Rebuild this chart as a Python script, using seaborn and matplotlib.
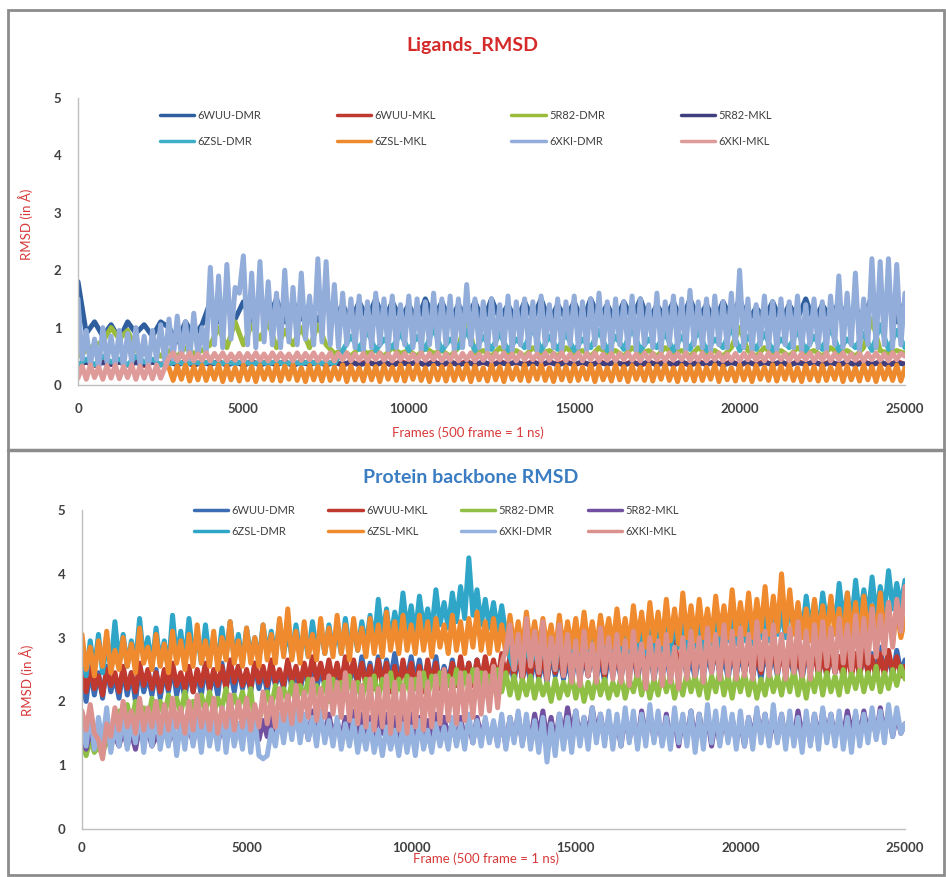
import numpy as np
import pandas as pd
import matplotlib
matplotlib.use("Agg")
import matplotlib.pyplot as plt
import seaborn as sns
from matplotlib.lines import Line2D
from matplotlib.patches import Rectangle

SYSTEMS = ["6WUU-DMR", "6WUU-MKL", "5R82-DMR", "5R82-MKL",
           "6ZSL-DMR", "6ZSL-MKL", "6XKI-DMR", "6XKI-MKL"]

LIG_COLORS = ["#2E5E9E", "#C0392F", "#9BBB3B", "#3F3F7F",
              "#3FAFC8", "#EE8A2E", "#93ADDA", "#DE9B9A"]
PRO_COLORS = ["#3C6DB4", "#C0392F", "#8FBF45", "#7150A0",
              "#2FA6C8", "#EF8A2F", "#96B2DF", "#DB928F"]

LAST_FRAME = 25000        # readings are evenly spaced from frame 0 to 25000
X_TICKS = [0, 5000, 10000, 15000, 20000, 25000]
Y_TICKS = [0, 1, 2, 3, 4, 5]

# ---------------- ligand RMSD (A) ----------------
# hidden / minor series: one reading every 250 frames
LIG_6WUU_DMR = [
    1.80, 0.90, 1.10, 0.85, 1.05, 0.80, 1.10, 0.90, 1.05, 0.85,
    1.10, 1.00, 0.75, 1.10, 0.85, 1.05, 1.45, 1.10, 1.40, 1.15,
    1.45, 1.10, 1.40, 1.15, 1.50, 1.10, 1.45, 1.15, 1.40, 1.10,
    1.45, 1.15, 1.40, 1.10, 1.45, 1.15, 1.50, 1.10, 1.45, 1.15,
    1.40, 1.10, 1.50, 1.15, 1.45, 1.10, 1.40, 1.15, 1.45, 1.10,
    1.50, 1.15, 1.40, 1.10, 1.45, 1.15, 1.50, 1.10, 1.40, 1.15,
    1.45, 1.10, 1.50, 1.15, 1.40, 1.10, 1.45, 1.15, 1.50, 1.10,
    1.40, 1.15, 1.45, 1.10, 1.50, 1.15, 1.40, 1.10, 1.45, 1.15,
    1.50, 1.10, 1.35, 1.15, 1.45, 1.10, 1.40, 1.15, 1.50, 1.10,
    1.40, 1.15, 1.45, 1.10, 1.35, 1.15, 1.55, 1.50, 1.45, 1.10,
    1.45]
LIG_6WUU_MKL = [
    0.35, 0.40, 0.34, 0.41, 0.36, 0.40, 0.35, 0.41, 0.34, 0.40,
    0.36, 0.41, 0.35, 0.40, 0.34, 0.41, 0.36, 0.40, 0.35, 0.41,
    0.34, 0.40, 0.36, 0.41, 0.35, 0.40, 0.34, 0.41, 0.36, 0.40,
    0.35, 0.41, 0.34, 0.40, 0.36, 0.41, 0.35, 0.40, 0.34, 0.41,
    0.36, 0.40, 0.35, 0.41, 0.34, 0.40, 0.36, 0.41, 0.35, 0.40,
    0.34, 0.41, 0.36, 0.40, 0.35, 0.41, 0.34, 0.40, 0.36, 0.41,
    0.35, 0.40, 0.34, 0.41, 0.36, 0.40, 0.35, 0.41, 0.34, 0.40,
    0.36, 0.41, 0.35, 0.40, 0.34, 0.41, 0.36, 0.40, 0.35, 0.41,
    0.34, 0.40, 0.36, 0.41, 0.35, 0.40, 0.34, 0.41, 0.36, 0.40,
    0.35, 0.41, 0.34, 0.40, 0.36, 0.41, 0.35, 0.40, 0.34, 0.41,
    0.36]
LIG_5R82_DMR = [
    0.50, 0.60, 0.70, 0.75, 1.00, 0.80, 0.95, 0.60, 0.55, 0.65,
    0.50, 0.60, 0.50, 0.65, 0.55, 0.60, 0.70, 1.00, 0.65, 1.10,
    0.70, 1.05, 0.80, 1.10, 0.65, 0.95, 0.70, 1.00, 0.65, 1.05,
    0.70, 0.55, 0.60, 0.50, 0.65, 0.55, 0.60, 0.50, 0.65, 0.55,
    0.60, 0.50, 0.65, 0.55, 0.60, 0.50, 0.65, 1.20, 0.55, 0.60,
    0.50, 0.65, 0.55, 0.60, 0.50, 0.65, 0.55, 0.60, 0.50, 0.65,
    0.55, 0.60, 0.50, 0.65, 0.55, 0.60, 0.50, 0.65, 0.55, 0.60,
    0.50, 0.65, 0.55, 0.60, 0.50, 0.65, 0.55, 0.60, 0.50, 0.65,
    1.00, 0.60, 0.50, 0.65, 0.55, 0.60, 0.50, 0.65, 0.55, 0.60,
    0.50, 0.65, 0.55, 0.60, 0.50, 0.65, 1.15, 0.60, 0.55, 0.60,
    0.55]
LIG_5R82_MKL = [
    0.36, 0.40, 0.35, 0.39, 0.36, 0.40, 0.35, 0.39, 0.36, 0.40,
    0.35, 0.39, 0.36, 0.40, 0.35, 0.39, 0.36, 0.40, 0.35, 0.39,
    0.36, 0.40, 0.35, 0.39, 0.36, 0.40, 0.35, 0.39, 0.36, 0.40,
    0.35, 0.39, 0.36, 0.40, 0.35, 0.39, 0.36, 0.40, 0.35, 0.39,
    0.36, 0.40, 0.35, 0.39, 0.36, 0.40, 0.35, 0.39, 0.36, 0.40,
    0.35, 0.39, 0.36, 0.40, 0.35, 0.39, 0.36, 0.40, 0.35, 0.39,
    0.36, 0.40, 0.35, 0.39, 0.36, 0.40, 0.35, 0.39, 0.36, 0.40,
    0.35, 0.39, 0.36, 0.40, 0.35, 0.39, 0.36, 0.40, 0.35, 0.39,
    0.36, 0.40, 0.35, 0.39, 0.36, 0.40, 0.35, 0.39, 0.36, 0.40,
    0.35, 0.39, 0.36, 0.40, 0.35, 0.39, 0.36, 0.40, 0.35, 0.39,
    0.36]
LIG_6ZSL_DMR = [
    0.35, 0.45, 0.35, 0.50, 0.40, 0.45, 0.35, 0.50, 0.40, 0.45,
    0.35, 0.37, 0.41, 0.36, 0.40, 0.37, 0.41, 0.36, 0.40, 0.37,
    0.41, 0.36, 0.40, 0.37, 0.41, 0.36, 0.40, 0.37, 0.41, 0.36,
    0.40, 0.37, 0.60, 0.85, 0.62, 0.95, 0.60, 0.80, 0.65, 0.90,
    0.60, 0.85, 0.62, 1.00, 0.60, 0.80, 0.65, 0.95, 0.60, 0.85,
    0.62, 0.90, 0.60, 0.80, 0.65, 1.00, 0.60, 0.85, 0.62, 0.90,
    0.60, 0.80, 0.65, 0.95, 0.60, 0.85, 0.62, 1.00, 0.60, 0.80,
    0.65, 0.90, 0.60, 0.85, 0.62, 0.95, 0.60, 0.80, 0.65, 1.00,
    0.60, 0.85, 0.62, 0.90, 0.60, 0.80, 0.65, 0.95, 0.60, 0.85,
    0.62, 1.00, 0.60, 0.80, 0.65, 0.90, 0.60, 1.05, 0.62, 0.95,
    0.65]
# dominant series: one reading every 125 frames
LIG_6ZSL_MKL = [
    np.nan, np.nan, np.nan, np.nan, np.nan, np.nan, np.nan, np.nan, np.nan, np.nan,
    np.nan, np.nan, np.nan, np.nan, np.nan, np.nan, np.nan, np.nan, np.nan, np.nan,
    np.nan, np.nan, 0.30, 0.08, 0.33, 0.10, 0.35, 0.07, 0.32, 0.09,
    0.34, 0.08, 0.31, 0.10, 0.35, 0.06, 0.33, 0.09, 0.30, 0.07,
    0.35, 0.09, 0.32, 0.06, 0.34, 0.10, 0.31, 0.08, 0.35, 0.07,
    0.33, 0.10, 0.35, 0.08, 0.30, 0.06, 0.34, 0.09, 0.32, 0.07,
    0.34, 0.08, 0.31, 0.10, 0.35, 0.06, 0.33, 0.09, 0.30, 0.07,
    0.35, 0.09, 0.32, 0.06, 0.34, 0.10, 0.31, 0.08, 0.35, 0.07,
    0.33, 0.10, 0.35, 0.08, 0.30, 0.06, 0.34, 0.09, 0.32, 0.07,
    0.34, 0.08, 0.31, 0.10, 0.35, 0.06, 0.33, 0.09, 0.30, 0.07,
    0.35, 0.09, 0.32, 0.06, 0.34, 0.10, 0.31, 0.08, 0.35, 0.07,
    0.33, 0.10, 0.35, 0.08, 0.30, 0.06, 0.34, 0.09, 0.32, 0.07,
    0.34, 0.08, 0.31, 0.10, 0.35, 0.06, 0.33, 0.09, 0.30, 0.07,
    0.35, 0.09, 0.32, 0.06, 0.34, 0.10, 0.31, 0.08, 0.35, 0.07,
    0.33, 0.10, 0.35, 0.08, 0.30, 0.06, 0.34, 0.09, 0.32, 0.07,
    0.34, 0.08, 0.31, 0.10, 0.35, 0.06, 0.33, 0.09, 0.30, 0.07,
    0.35, 0.09, 0.32, 0.06, 0.34, 0.10, 0.31, 0.08, 0.35, 0.07,
    0.33, 0.10, 0.35, 0.08, 0.30, 0.06, 0.34, 0.09, 0.32, 0.07,
    0.34, 0.08, 0.31, 0.10, 0.35, 0.06, 0.33, 0.09, 0.30, 0.07,
    0.35, 0.09, 0.32, 0.06, 0.34, 0.10, 0.31, 0.08, 0.35, 0.07,
    0.30]
LIG_6XKI_DMR = [
    1.50, 0.45, 0.95, 0.35, 0.80, 0.30, 1.00, 0.40, 0.85, 0.35,
    0.95, 0.30, 0.90, 0.40, 1.00, 0.35, 0.85, 0.30, 0.95, 0.45,
    1.05, 0.40, 1.15, 0.45, 1.20, 0.50, 1.10, 0.45, 1.25, 0.50,
    1.00, 0.55, 2.05, 0.70, 1.90, 0.65, 2.10, 0.80, 1.70, 1.60,
    2.25, 0.70, 1.95, 0.65, 2.15, 0.75, 1.80, 0.70, 1.60, 0.65,
    2.00, 0.75, 1.70, 0.70, 1.95, 0.80, 1.55, 0.70, 2.20, 0.75,
    2.15, 0.70, 1.75, 0.65, 1.60, 0.70, 1.50, 0.65, 1.55, 0.60,
    1.45, 0.65, 1.60, 0.70, 1.50, 0.60, 1.55, 0.65, 1.40, 0.70,
    1.55, 0.65, 1.50, 0.60, 1.45, 0.70, 1.60, 0.65, 1.50, 0.70,
    1.55, 0.60, 1.50, 0.65, 1.75, 0.70, 1.50, 0.65, 1.45, 0.60,
    1.50, 0.70, 1.40, 0.65, 1.55, 0.60, 1.45, 0.70, 1.50, 0.65,
    1.45, 0.60, 1.55, 0.70, 1.40, 0.65, 1.50, 0.60, 1.45, 0.70,
    1.55, 0.65, 1.45, 0.60, 1.50, 0.70, 1.60, 0.65, 1.45, 0.60,
    1.50, 0.70, 1.45, 0.65, 1.55, 0.60, 1.50, 0.70, 1.40, 0.65,
    1.60, 0.60, 1.45, 0.70, 1.55, 0.65, 1.50, 0.60, 1.65, 0.70,
    1.45, 0.65, 1.50, 0.60, 1.55, 0.70, 1.45, 0.65, 1.60, 0.70,
    2.00, 0.65, 1.50, 0.60, 1.40, 0.70, 1.55, 0.65, 1.45, 0.60,
    1.50, 0.70, 1.45, 0.65, 1.55, 0.60, 1.40, 0.70, 1.50, 0.65,
    1.45, 0.60, 1.55, 0.70, 1.90, 0.65, 1.60, 0.70, 1.95, 0.60,
    1.50, 0.70, 2.20, 0.65, 2.15, 0.70, 2.20, 0.65, 2.10, 0.70,
    1.60]
LIG_6XKI_MKL = [
    0.12, 0.33, 0.10, 0.35, 0.13, 0.31, 0.10, 0.34, 0.12, 0.35,
    0.11, 0.32, 0.13, 0.35, 0.10, 0.33, 0.12, 0.34, 0.11, 0.35,
    0.12, 0.30, 0.48, 0.56, 0.42, 0.55, 0.43, 0.56, 0.42, 0.54,
    0.43, 0.56, 0.42, 0.55, 0.44, 0.56, 0.42, 0.54, 0.43, 0.55,
    0.42, 0.55, 0.44, 0.56, 0.43, 0.54, 0.42, 0.56, 0.44, 0.55,
    0.44, 0.54, 0.42, 0.56, 0.43, 0.55, 0.44, 0.56, 0.42, 0.54,
    0.43, 0.56, 0.42, 0.55, 0.44, 0.56, 0.42, 0.54, 0.43, 0.55,
    0.42, 0.55, 0.44, 0.56, 0.43, 0.54, 0.42, 0.56, 0.44, 0.55,
    0.44, 0.54, 0.42, 0.56, 0.43, 0.55, 0.44, 0.56, 0.42, 0.54,
    0.43, 0.56, 0.42, 0.55, 0.44, 0.56, 0.42, 0.54, 0.43, 0.55,
    0.42, 0.55, 0.44, 0.56, 0.43, 0.54, 0.42, 0.56, 0.44, 0.55,
    0.44, 0.54, 0.42, 0.56, 0.43, 0.55, 0.44, 0.56, 0.42, 0.54,
    0.43, 0.56, 0.42, 0.55, 0.44, 0.56, 0.42, 0.54, 0.43, 0.55,
    0.42, 0.55, 0.44, 0.56, 0.43, 0.54, 0.42, 0.56, 0.44, 0.55,
    0.44, 0.54, 0.42, 0.56, 0.43, 0.55, 0.44, 0.56, 0.42, 0.54,
    0.43, 0.56, 0.42, 0.55, 0.44, 0.56, 0.42, 0.54, 0.43, 0.55,
    0.42, 0.55, 0.44, 0.56, 0.43, 0.54, 0.42, 0.56, 0.44, 0.55,
    0.44, 0.54, 0.42, 0.56, 0.43, 0.55, 0.44, 0.56, 0.42, 0.54,
    0.43, 0.56, 0.42, 0.55, 0.44, 0.56, 0.42, 0.54, 0.43, 0.55,
    0.42, 0.55, 0.44, 0.56, 0.43, 0.54, 0.42, 0.56, 0.44, 0.55,
    0.50]

# ---------------- protein backbone RMSD (A), every 125 frames ----------------
PRO_6WUU_DMR = [
    2.35, 2.00, 2.50, 2.10, 2.45, 2.05, 2.55, 2.15, 2.40, 2.05,
    2.50, 2.10, 2.45, 2.00, 2.55, 2.15, 2.40, 2.10, 2.50, 2.05,
    2.45, 2.15, 2.55, 2.10, 2.40, 2.05, 2.50, 2.15, 2.45, 2.10,
    2.55, 2.15, 2.45, 2.10, 2.60, 2.20, 2.50, 2.15, 2.55, 2.20,
    2.45, 2.15, 2.60, 2.20, 2.50, 2.15, 2.55, 2.25, 2.45, 2.20,
    2.60, 2.20, 2.50, 2.15, 2.55, 2.25, 2.65, 2.20, 2.50, 2.25,
    2.60, 2.25, 2.55, 2.20, 2.65, 2.30, 2.55, 2.25, 2.70, 2.30,
    2.60, 2.25, 2.70, 2.30, 2.65, 2.35, 2.75, 2.30, 2.60, 2.35,
    2.70, 2.30, 2.65, 2.25, 2.60, 2.30, 2.70, 2.25, 2.55, 2.30,
    2.65, 2.25, 2.55, 2.30, 2.60, 2.25, 2.65, 2.30, 2.55, 2.25,
    2.60, 2.30, 2.70, 2.35, 2.65, 2.30, 2.75, 2.35, 2.65, 2.30,
    2.70, 2.35, 2.65, 2.30, 2.75, 2.40, 2.70, 2.35, 2.65, 2.30,
    2.75, 2.35, 2.70, 2.40, 2.80, 2.35, 2.70, 2.30, 2.75, 2.40,
    2.70, 2.35, 2.80, 2.40, 2.75, 2.35, 2.70, 2.40, 2.80, 2.35,
    2.75, 2.40, 2.70, 2.35, 2.80, 2.45, 2.75, 2.40, 2.70, 2.35,
    2.80, 2.40, 2.75, 2.45, 2.85, 2.40, 2.75, 2.35, 2.80, 2.40,
    2.75, 2.45, 2.80, 2.40, 2.70, 2.35, 2.80, 2.45, 2.75, 2.40,
    2.85, 2.45, 2.75, 2.40, 2.80, 2.35, 2.75, 2.45, 2.85, 2.40,
    2.75, 2.40, 2.80, 2.45, 2.70, 2.40, 2.85, 2.45, 2.75, 2.40,
    2.80, 2.45, 2.75, 2.40, 2.85, 2.45, 2.70, 2.40, 2.80, 2.45,
    2.65]
PRO_6WUU_MKL = [
    2.45, 2.15, 2.55, 2.20, 2.40, 2.10, 2.50, 2.25, 2.45, 2.15,
    2.55, 2.20, 2.45, 2.15, 2.60, 2.25, 2.50, 2.20, 2.45, 2.15,
    2.50, 2.20, 2.60, 2.25, 2.45, 2.20, 2.55, 2.15, 2.50, 2.25,
    2.60, 2.20, 2.50, 2.25, 2.55, 2.20, 2.65, 2.30, 2.55, 2.25,
    2.50, 2.20, 2.60, 2.30, 2.55, 2.25, 2.65, 2.30, 2.50, 2.25,
    2.65, 2.30, 2.55, 2.25, 2.60, 2.30, 2.70, 2.35, 2.60, 2.30,
    2.65, 2.30, 2.60, 2.25, 2.70, 2.35, 2.65, 2.30, 2.60, 2.25,
    2.55, 2.20, 2.65, 2.25, 2.60, 2.15, 2.55, 2.20, 2.65, 2.25,
    2.60, 2.20, 2.55, 2.15, 2.65, 2.25, 2.60, 2.20, 2.50, 2.25,
    2.60, 2.25, 2.70, 2.30, 2.60, 2.25, 2.65, 2.30, 2.70, 2.35,
    2.65, 2.30, 2.75, 2.35, 2.70, 2.40, 2.80, 2.35, 2.70, 2.40,
    2.80, 2.40, 2.75, 2.35, 2.85, 2.45, 2.75, 2.40, 2.80, 2.45,
    2.85, 2.45, 2.80, 2.40, 2.90, 2.45, 2.80, 2.40, 2.85, 2.45,
    2.75, 2.40, 2.85, 2.45, 2.80, 2.40, 2.90, 2.50, 2.85, 2.45,
    2.90, 2.50, 2.80, 2.45, 2.95, 2.50, 2.85, 2.45, 2.90, 2.50,
    2.85, 2.45, 2.95, 2.50, 2.85, 2.45, 2.90, 2.50, 2.80, 2.45,
    2.90, 2.45, 2.85, 2.40, 2.80, 2.45, 2.90, 2.50, 2.85, 2.45,
    2.80, 2.40, 2.85, 2.45, 2.75, 2.40, 2.85, 2.45, 2.80, 2.40,
    2.75, 2.40, 2.80, 2.45, 2.70, 2.35, 2.80, 2.40, 2.75, 2.40,
    2.80, 2.45, 2.70, 2.35, 2.75, 2.40, 2.80, 2.45, 2.70, 2.40,
    2.55]
PRO_5R82_DMR = [
    1.35, 1.15, 1.40, 1.20, 1.30, 1.15, 1.45, 1.25, 1.60, 1.85,
    1.70, 1.95, 1.65, 2.00, 1.75, 1.90, 1.70, 2.05, 1.80, 2.00,
    1.75, 2.10, 1.85, 2.05, 1.80, 2.15, 1.85, 2.00, 1.75, 2.10,
    1.85, 2.15, 1.80, 2.05, 1.90, 2.20, 1.85, 2.10, 1.90, 2.15,
    1.85, 2.20, 1.60, 1.70, 1.95, 2.15, 1.90, 2.25, 1.95, 2.20,
    2.00, 2.30, 1.95, 2.25, 2.05, 2.35, 2.00, 2.25, 2.05, 2.30,
    2.00, 2.35, 2.05, 2.30, 2.10, 2.40, 2.05, 2.30, 2.00, 2.35,
    2.10, 2.40, 2.05, 2.35, 2.10, 2.45, 2.05, 2.35, 2.10, 2.40,
    2.05, 2.35, 2.10, 2.45, 2.05, 2.40, 2.15, 2.45, 2.10, 2.40,
    2.15, 2.50, 2.10, 2.45, 2.20, 2.50, 2.15, 2.45, 2.10, 2.40,
    2.20, 2.50, 2.15, 2.45, 2.10, 2.40, 2.05, 2.35, 2.10, 2.40,
    2.05, 2.35, 2.10, 2.30, 2.00, 2.35, 2.05, 2.30, 2.10, 2.40,
    2.05, 2.35, 2.00, 2.30, 2.05, 2.40, 2.10, 2.35, 2.05, 2.30,
    2.10, 2.40, 2.05, 2.35, 2.15, 2.45, 2.10, 2.40, 2.05, 2.35,
    2.10, 2.45, 2.15, 2.40, 2.05, 2.35, 2.10, 2.45, 2.15, 2.40,
    2.10, 2.45, 2.05, 2.40, 2.15, 2.50, 2.10, 2.40, 2.05, 2.45,
    2.15, 2.45, 2.10, 2.40, 2.05, 2.35, 2.10, 2.45, 2.15, 2.40,
    2.10, 2.45, 2.15, 2.50, 2.10, 2.40, 2.05, 2.45, 2.15, 2.50,
    2.10, 2.45, 2.15, 2.40, 2.10, 2.50, 2.15, 2.45, 2.20, 2.50,
    2.15, 2.45, 2.20, 2.55, 2.15, 2.45, 2.20, 2.50, 2.25, 2.55,
    2.35]
PRO_5R82_MKL = [
    1.45, 1.25, 1.55, 1.30, 1.50, 1.20, 1.60, 1.35, 1.45, 1.30,
    1.55, 1.30, 1.50, 1.25, 1.60, 1.35, 1.55, 1.30, 1.45, 1.35,
    1.60, 1.35, 1.55, 1.30, 1.65, 1.40, 1.60, 1.35, 1.70, 1.40,
    1.65, 1.40, 1.70, 1.35, 1.60, 1.40, 1.75, 1.45, 1.65, 1.40,
    1.70, 1.45, 1.75, 1.40, 1.70, 1.45, 1.80, 1.50, 1.70, 1.45,
    1.75, 1.50, 1.80, 1.45, 1.75, 1.40, 1.85, 1.50, 1.75, 1.45,
    1.80, 1.45, 1.70, 1.40, 1.75, 1.50, 1.85, 1.45, 1.80, 1.50,
    1.75, 1.45, 1.85, 1.50, 1.80, 1.40, 1.75, 1.45, 1.85, 1.50,
    1.80, 1.45, 1.75, 1.35, 1.70, 1.40, 1.80, 1.45, 1.75, 1.40,
    1.70, 1.35, 1.75, 1.40, 1.65, 1.35, 1.75, 1.45, 1.70, 1.40,
    1.65, 1.35, 1.70, 1.30, 1.75, 1.40, 1.80, 1.35, 1.70, 1.40,
    1.80, 1.45, 1.85, 1.40, 1.75, 1.35, 1.80, 1.45, 1.90, 1.50,
    1.85, 1.40, 1.75, 1.45, 1.90, 1.50, 1.80, 1.40, 1.75, 1.35,
    1.70, 1.30, 1.80, 1.40, 1.75, 1.35, 1.85, 1.45, 1.80, 1.40,
    1.75, 1.35, 1.80, 1.40, 1.70, 1.30, 1.75, 1.40, 1.85, 1.35,
    1.80, 1.40, 1.75, 1.30, 1.70, 1.35, 1.80, 1.40, 1.75, 1.35,
    1.70, 1.30, 1.75, 1.40, 1.85, 1.45, 1.80, 1.35, 1.75, 1.40,
    1.80, 1.35, 1.75, 1.40, 1.85, 1.45, 1.75, 1.35, 1.80, 1.40,
    1.85, 1.45, 1.80, 1.40, 1.75, 1.45, 1.85, 1.50, 1.80, 1.45,
    1.85, 1.50, 1.80, 1.45, 1.90, 1.50, 1.85, 1.45, 1.80, 1.50,
    1.65]
PRO_6ZSL_DMR = [
    2.75, 2.40, 2.95, 2.50, 3.05, 2.45, 2.90, 2.55, 3.25, 2.60,
    3.05, 2.55, 2.95, 2.60, 3.30, 2.65, 3.00, 2.55, 3.15, 2.60,
    2.95, 2.50, 3.35, 2.65, 3.10, 2.60, 3.30, 2.70, 3.05, 2.60,
    3.20, 2.65, 3.00, 2.60, 3.15, 2.70, 3.25, 2.65, 3.05, 2.60,
    3.15, 2.70, 3.00, 2.65, 3.20, 2.75, 3.10, 2.70, 3.25, 2.75,
    3.10, 2.70, 3.20, 2.75, 3.05, 2.70, 3.25, 2.80, 3.15, 2.75,
    3.20, 2.80, 3.10, 2.75, 3.30, 2.85, 3.15, 2.80, 3.25, 2.85,
    3.35, 2.90, 3.60, 3.00, 3.45, 2.95, 3.40, 3.05, 3.70, 3.10,
    3.50, 3.05, 3.65, 3.15, 3.45, 3.10, 3.75, 3.20, 3.55, 3.15,
    3.70, 3.25, 3.80, 3.30, 4.25, 3.35, 3.75, 3.20, 3.60, 3.15,
    3.55, 3.10, 3.50, 3.05, 2.70, 2.50, 2.85, 2.55, 2.90, 2.60,
    2.80, 2.55, 2.95, 2.60, 2.85, 2.50, 3.00, 2.65, 2.90, 2.60,
    3.05, 2.65, 2.90, 2.60, 3.10, 2.70, 2.95, 2.65, 3.05, 2.70,
    3.00, 2.65, 3.15, 2.75, 3.05, 2.70, 3.20, 2.75, 3.10, 2.70,
    3.25, 2.80, 3.15, 2.75, 3.30, 2.85, 3.20, 2.80, 3.35, 2.85,
    3.25, 2.80, 3.40, 2.90, 3.30, 2.85, 3.45, 2.95, 3.35, 2.90,
    3.45, 2.95, 3.35, 2.90, 3.50, 3.00, 3.40, 2.95, 3.55, 3.05,
    3.40, 3.00, 3.60, 3.10, 3.50, 3.05, 3.65, 3.15, 3.55, 3.10,
    3.70, 3.20, 3.60, 3.15, 3.85, 3.25, 3.70, 3.20, 3.90, 3.30,
    3.75, 3.30, 3.95, 3.35, 3.80, 3.40, 4.05, 3.45, 3.85, 3.50,
    3.90]
PRO_6ZSL_MKL = [
    3.05, 2.50, 2.85, 2.40, 2.95, 2.55, 3.10, 2.45, 2.80, 2.50,
    3.00, 2.55, 2.90, 2.45, 3.15, 2.60, 2.85, 2.50, 3.05, 2.55,
    2.90, 2.45, 3.10, 2.60, 2.95, 2.50, 3.05, 2.55, 3.20, 2.60,
    2.95, 2.55, 3.10, 2.50, 3.00, 2.65, 3.25, 2.60, 2.95, 2.55,
    3.15, 2.60, 3.00, 2.55, 3.20, 2.65, 3.05, 2.60, 3.30, 2.70,
    3.45, 2.65, 3.10, 2.60, 3.25, 2.70, 3.05, 2.65, 3.30, 2.75,
    3.15, 2.70, 3.35, 2.75, 3.20, 2.65, 3.30, 2.80, 3.15, 2.70,
    3.30, 2.75, 3.20, 2.70, 3.40, 2.80, 3.25, 2.75, 3.35, 2.80,
    3.20, 2.75, 3.35, 2.80, 3.25, 2.70, 3.30, 2.85, 3.20, 2.75,
    3.35, 2.80, 3.25, 2.75, 3.30, 2.85, 3.40, 2.80, 3.25, 2.75,
    3.30, 2.80, 3.20, 2.75, 3.35, 2.85, 3.25, 2.80, 3.40, 2.85,
    3.25, 2.80, 3.30, 2.85, 3.20, 2.75, 3.35, 2.80, 3.25, 2.85,
    3.30, 2.80, 3.40, 2.85, 3.25, 2.80, 3.35, 2.90, 3.30, 2.85,
    3.45, 2.90, 3.30, 2.85, 3.50, 2.95, 3.40, 2.85, 3.55, 2.95,
    3.40, 2.90, 3.60, 2.95, 3.45, 2.90, 3.70, 3.00, 3.50, 2.95,
    3.60, 3.00, 3.45, 2.95, 3.65, 3.05, 3.50, 3.00, 3.75, 3.05,
    3.55, 3.05, 3.70, 3.00, 3.60, 3.10, 3.80, 3.05, 3.65, 3.10,
    4.00, 3.10, 3.75, 3.05, 3.55, 3.00, 3.45, 2.95, 3.60, 3.00,
    3.50, 2.95, 3.65, 3.05, 3.45, 2.90, 3.70, 3.00, 3.55, 2.95,
    3.65, 3.05, 3.50, 2.95, 3.70, 3.00, 3.55, 2.90, 3.45, 3.00,
    3.30]
PRO_6XKI_DMR = [
    1.70, 1.30, 1.85, 1.25, 1.75, 1.35, 1.90, 1.20, 1.65, 1.30,
    1.80, 1.25, 1.70, 1.35, 1.85, 1.20, 1.75, 1.30, 1.90, 1.25,
    1.65, 1.30, 1.80, 1.15, 1.70, 1.25, 1.85, 1.30, 1.75, 1.20,
    1.80, 1.30, 1.70, 1.25, 1.90, 1.20, 1.75, 1.30, 1.65, 1.25,
    1.85, 1.20, 1.75, 1.15, 1.10, 1.15, 1.55, 1.30, 1.80, 1.35,
    1.85, 1.40, 1.90, 1.35, 1.80, 1.40, 1.75, 1.30, 1.85, 1.35,
    1.70, 1.30, 1.75, 1.25, 1.65, 1.30, 1.70, 1.20, 1.60, 1.25,
    1.65, 1.20, 1.55, 1.15, 1.60, 1.25, 1.55, 1.15, 1.65, 1.20,
    1.60, 1.15, 1.70, 1.25, 1.55, 1.20, 1.65, 1.30, 1.60, 1.25,
    1.75, 1.30, 1.65, 1.25, 1.80, 1.35, 1.70, 1.30, 1.75, 1.35,
    1.70, 1.30, 1.80, 1.25, 1.75, 1.35, 1.85, 1.30, 1.80, 1.25,
    1.70, 1.20, 1.75, 1.05, 1.65, 1.15, 1.80, 1.25, 1.75, 1.20,
    1.85, 1.30, 1.75, 1.25, 1.90, 1.35, 1.80, 1.30, 1.85, 1.25,
    1.80, 1.30, 1.90, 1.35, 1.85, 1.25, 1.80, 1.30, 1.95, 1.35,
    1.85, 1.30, 1.75, 1.25, 1.90, 1.35, 1.80, 1.30, 1.85, 1.20,
    1.80, 1.25, 1.95, 1.35, 1.85, 1.30, 1.90, 1.35, 1.80, 1.25,
    1.85, 1.30, 1.75, 1.25, 1.90, 1.35, 1.80, 1.30, 1.95, 1.35,
    1.80, 1.25, 1.85, 1.30, 1.75, 1.20, 1.85, 1.30, 1.80, 1.25,
    1.90, 1.35, 1.80, 1.30, 1.85, 1.25, 1.75, 1.20, 1.85, 1.30,
    1.80, 1.35, 1.90, 1.40, 1.85, 1.35, 1.95, 1.45, 1.90, 1.50,
    1.65]
PRO_6XKI_MKL = [
    1.85, 1.55, 1.95, 1.50, 1.40, 1.10, 1.65, 1.45, 1.90, 1.55,
    2.00, 1.60, 1.85, 1.50, 2.05, 1.55, 1.90, 1.60, 2.00, 1.50,
    1.95, 1.55, 2.05, 1.60, 1.90, 1.50, 2.00, 1.55, 2.10, 1.60,
    1.95, 1.55, 2.05, 1.50, 1.90, 1.60, 2.10, 1.55, 2.00, 1.60,
    2.05, 1.55, 1.95, 1.60, 2.15, 1.65, 2.05, 1.60, 2.20, 1.70,
    2.10, 1.65, 2.25, 1.70, 2.15, 1.75, 2.35, 1.70, 2.20, 1.75,
    2.40, 1.80, 2.30, 1.75, 2.45, 1.70, 2.30, 1.65, 2.25, 1.60,
    2.35, 1.55, 2.20, 1.60, 2.40, 1.50, 2.30, 1.55, 2.25, 1.50,
    2.35, 1.60, 2.45, 1.55, 2.30, 1.60, 2.40, 1.65, 2.50, 1.70,
    2.35, 1.65, 2.45, 1.70, 2.40, 1.75, 2.50, 1.80, 2.45, 1.85,
    2.55, 1.90, 2.60, 2.80, 3.20, 2.50, 3.05, 2.40, 3.30, 2.55,
    3.10, 2.45, 3.25, 2.35, 3.00, 2.50, 3.20, 2.40, 3.05, 2.30,
    2.95, 2.25, 3.10, 2.40, 2.90, 2.30, 3.15, 2.45, 3.00, 2.35,
    3.05, 2.30, 2.95, 2.25, 3.10, 2.40, 2.90, 2.20, 3.00, 2.35,
    2.95, 2.25, 3.05, 2.30, 2.85, 2.20, 3.00, 2.35, 3.10, 2.40,
    3.00, 2.30, 3.15, 2.45, 3.05, 2.35, 3.20, 2.40, 3.10, 2.35,
    3.15, 2.40, 3.05, 2.35, 3.25, 2.50, 3.10, 2.40, 3.20, 2.45,
    3.05, 2.35, 3.15, 2.45, 3.25, 2.40, 3.10, 2.35, 3.20, 2.50,
    3.25, 2.55, 3.15, 2.45, 3.30, 2.60, 3.20, 2.50, 3.35, 2.55,
    3.30, 2.60, 3.45, 2.70, 3.35, 2.75, 3.55, 2.85, 3.60, 3.10,
    3.80]

LIGAND_SERIES = [LIG_6WUU_DMR, LIG_6WUU_MKL, LIG_5R82_DMR, LIG_5R82_MKL,
                 LIG_6ZSL_DMR, LIG_6ZSL_MKL, LIG_6XKI_DMR, LIG_6XKI_MKL]
PROTEIN_SERIES = [PRO_6WUU_DMR, PRO_6WUU_MKL, PRO_5R82_DMR, PRO_5R82_MKL,
                  PRO_6ZSL_DMR, PRO_6ZSL_MKL, PRO_6XKI_DMR, PRO_6XKI_MKL]

W_PX, H_PX = 946, 877
TEXT_GREY = "#404040"
AXIS_GREY = "#BFBFBF"
LINE_W = 3.6


def long_table(series_list):
    parts = []
    for name, values in zip(SYSTEMS, series_list):
        values = np.asarray(values, dtype=float)
        parts.append(pd.DataFrame({
            "frame": np.linspace(0, LAST_FRAME, len(values)),
            "rmsd": values,
            "system": name,
        }))
    return pd.concat(parts, ignore_index=True).dropna()


def px_axes(fig, x0, x1, y_top, y_bottom):
    # axes box given in pixel coordinates of the 946x877 picture
    return fig.add_axes([x0 / W_PX, 1 - y_bottom / H_PX,
                         (x1 - x0) / W_PX, (y_bottom - y_top) / H_PX])


def draw_panel(ax, df, colors, xlabel, xpad):
    sns.lineplot(data=df, x="frame", y="rmsd", hue="system",
                 hue_order=SYSTEMS, palette=colors, estimator=None,
                 linewidth=LINE_W, legend=False, ax=ax)
    ax.set_xlim(0, LAST_FRAME)
    ax.set_ylim(0, 5)
    ax.set_xticks(X_TICKS)
    ax.set_yticks(Y_TICKS)
    ax.set_xticklabels([str(t) for t in X_TICKS])
    sns.despine(ax=ax)
    for side in ("left", "bottom"):
        ax.spines[side].set_color(AXIS_GREY)
        ax.spines[side].set_linewidth(1.0)
    ax.tick_params(axis="both", direction="out", length=4, width=1,
                   color=AXIS_GREY, labelsize=9.5, labelcolor=TEXT_GREY)
    ax.tick_params(axis="x", pad=xpad)
    ax.tick_params(axis="y", pad=8)
    for lbl in ax.get_xticklabels() + ax.get_yticklabels():
        lbl.set_fontweight("bold")
    ax.set_xlabel(xlabel, color="#D83A3A", fontsize=9.5)
    ax.set_ylabel("RMSD (in Å)", color="#D83A3A", fontsize=9.5)


def add_legend(ax, colors, anchor, colspacing, rowspacing):
    handles = [Line2D([0], [0], color=c, lw=2.5) for c in colors]
    # legend fills column by column; reorder so rows read like the original
    order = [0, 4, 1, 5, 2, 6, 3, 7]
    ax.legend([handles[i] for i in order], [SYSTEMS[i] for i in order],
              ncol=4, loc="upper left", bbox_to_anchor=anchor,
              bbox_transform=ax.figure.transFigure, frameon=False,
              fontsize=8, labelcolor=TEXT_GREY, handlelength=3.1,
              handletextpad=0.3, columnspacing=colspacing,
              labelspacing=rowspacing, borderpad=0)


def main():
    sns.set_style("white")
    plt.rcParams["font.family"] = ["Lato", "DejaVu Sans"]

    fig = plt.figure(figsize=(W_PX / 100, H_PX / 100), dpi=100)

    # two stacked chart frames, like two pasted spreadsheet charts
    fig.add_artist(Rectangle((8 / W_PX, 2 / H_PX), 936 / W_PX, 865 / H_PX,
                             transform=fig.transFigure, fill=False,
                             edgecolor="#8C8C8C", linewidth=2))
    fig.add_artist(Line2D([8 / W_PX, 944 / W_PX], [1 - 450 / H_PX, 1 - 450 / H_PX],
                          transform=fig.transFigure, color="#8C8C8C", linewidth=2.5))

    # ligand panel
    ax_top = px_axes(fig, 78, 905, 98, 385)
    draw_panel(ax_top, long_table(LIGAND_SERIES), LIG_COLORS,
               "Frames (500 frame = 1 ns)", xpad=9)
    ax_top.xaxis.set_label_coords((468 - 78) / 827, -0.143)
    ax_top.yaxis.set_label_coords(-0.055, 0.56)
    add_legend(ax_top, LIG_COLORS, (154 / W_PX, 1 - 104 / H_PX), 6.8, 1.35)
    fig.text(472 / W_PX, 1 - 45 / H_PX, "Ligands_RMSD", ha="center", va="center",
             fontsize=14, fontweight="bold", color="#D42A2A")

    # protein backbone panel
    ax_bot = px_axes(fig, 82, 905, 510, 829)
    draw_panel(ax_bot, long_table(PROTEIN_SERIES), PRO_COLORS,
               "Frame (500 frame = 1 ns)", xpad=5)
    ax_bot.xaxis.set_label_coords((486 - 82) / 823, -0.072)
    ax_bot.yaxis.set_label_coords(-0.058, 0.467)
    add_legend(ax_bot, PRO_COLORS, (188 / W_PX, 1 - 499 / H_PX), 3.0, 0.95)
    fig.text(471 / W_PX, 1 - 477 / H_PX, "Protein backbone RMSD", ha="center",
             va="center", fontsize=14, fontweight="bold", color="#3A7DC2")

    fig.savefig("out.png", dpi=100)
    plt.close(fig)


if __name__ == "__main__":
    main()
